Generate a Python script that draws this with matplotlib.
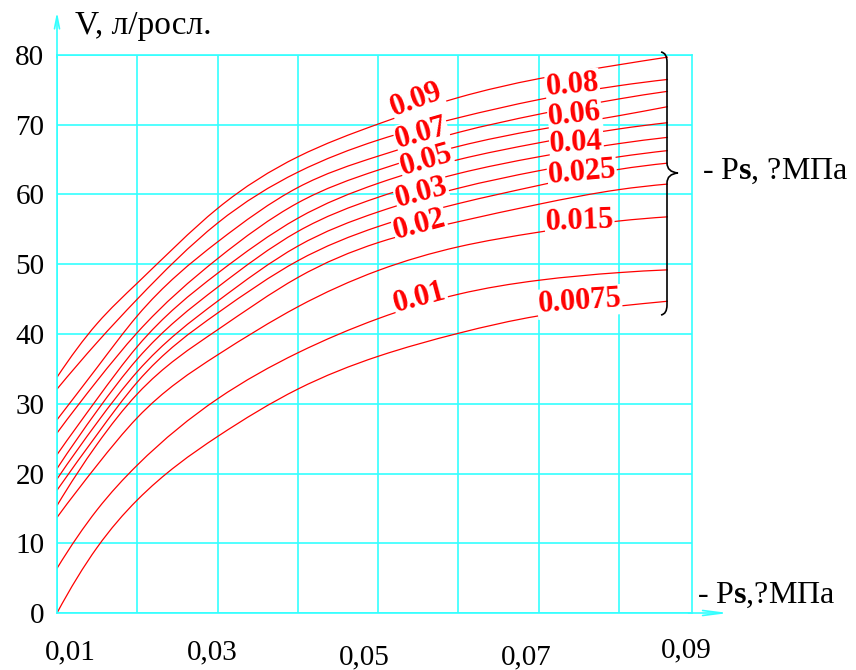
import matplotlib
matplotlib.use('Agg')
import numpy as np
import matplotlib.pyplot as plt
from matplotlib.path import Path
from matplotlib.patches import PathPatch

plt.rcParams['font.family'] = ['Liberation Serif', 'DejaVu Serif']
plt.rcParams['mathtext.fontset'] = 'custom'
plt.rcParams['mathtext.rm'] = 'Liberation Serif'
plt.rcParams['mathtext.bf'] = 'Liberation Serif:bold'

# ---- data ----
ps_x = [0.01, 0.015, 0.02, 0.03, 0.04, 0.05, 0.06, 0.07, 0.08, 0.0861]

v_0090 = [33.8, 41.5, 47.3, 58.0, 65.4, 70.1, 73.9, 76.6, 78.6, 79.7]
v_0080 = [32.1, 38.8, 45.0, 55.9, 63.2, 67.8, 71.0, 73.6, 75.6, 76.5]
v_0070 = [27.7, 35.2, 42.6, 53.2, 61.0, 65.5, 68.9, 71.5, 73.7, 74.8]
v_0060 = [25.8, 33.3, 40.2, 50.8, 58.8, 63.5, 66.9, 69.3, 71.3, 72.6]
v_0050 = [22.7, 30.7, 38.2, 48.7, 56.6, 61.6, 65.0, 67.4, 69.4, 70.3]
v_0040 = [20.7, 29.0, 36.4, 46.7, 54.7, 59.6, 63.0, 65.4, 67.3, 68.2]
v_0030 = [19.2, 27.3, 34.6, 44.7, 52.6, 57.5, 60.9, 63.4, 65.4, 66.3]
v_0025 = [17.6, 25.6, 33.1, 43.0, 50.5, 55.4, 58.7, 61.3, 63.6, 64.5]
v_0020 = [15.4, 24.2, 31.4, 40.6, 48.1, 53.1, 56.1, 58.6, 60.7, 61.5]
v_0015 = [13.7, 21.2, 28.0, 37.0, 43.9, 49.1, 52.5, 54.6, 56.2, 56.8]
v_0010 = [6.4, 14.8, 21.2, 30.7, 37.3, 42.2, 45.7, 47.7, 48.8, 49.2]
v_0075 = [0.0, 9.4, 16.2, 25.3, 32.1, 36.8, 40.1, 42.6, 44.0, 44.7]

curve_values = [v_0090, v_0080, v_0070, v_0060, v_0050, v_0040,
                v_0030, v_0025, v_0020, v_0015, v_0010, v_0075]
curve_labels = ['0.09', '0.08', '0.07', '0.06', '0.05', '0.04',
                '0.03', '0.025', '0.02', '0.015', '0.01', '0.0075']

y_ticks = [0, 10, 20, 30, 40, 50, 60, 70, 80]
x_grid = [0.01, 0.02, 0.03, 0.04, 0.05, 0.06, 0.07, 0.08]
x_tick_labels = ['0,01', '0,03', '0,05', '0,07', '0,09']

# ---- layout / style (not data) ----
label_pos = {  # x, y, rotation
    '0.09': (0.0548, 73.6, 20), '0.07': (0.0554, 68.7, 16),
    '0.05': (0.0560, 64.9, 16), '0.03': (0.0554, 60.2, 15),
    '0.02': (0.0552, 55.6, 15), '0.01': (0.0552, 45.2, 15),
    '0.08': (0.0742, 75.7, 5), '0.06': (0.0745, 71.4, 6),
    '0.04': (0.0747, 67.4, 3), '0.025': (0.0754, 63.1, 5),
    '0.015': (0.0751, 56.2, 2), '0.0075': (0.0751, 44.6, 4),
}
x_label_pos = [(0.0116, -5.7), (0.0294, -5.7), (0.0483, -6.3),
               (0.0685, -6.3), (0.0884, -5.3)]

GRID = '#33ffff'
XMIN, XMAX = 0.01, 0.0891

fig = plt.figure(figsize=(8.56, 6.70), dpi=100)
ax = fig.add_axes([57 / 856, 57 / 670, 635 / 856, 558 / 670])
ax.set_xlim(XMIN, XMAX)
ax.set_ylim(0, 80)

for gx in x_grid:
    ax.axvline(gx, color=GRID, lw=1.2, zorder=1)
for gy in y_ticks:
    ax.axhline(gy, color=GRID, lw=1.2, zorder=1)
for s in ax.spines.values():
    s.set_color(GRID)
    s.set_linewidth(1.2)

ax.set_xticks([])
ax.set_yticks(y_ticks)
ax.set_yticklabels([str(t) for t in y_ticks], fontsize=21)
ax.tick_params(axis='y', length=0, pad=9)


def smooth_path(xs, ys):
    """Clamped cubic spline through the read points, drawn as a Bezier path."""
    xs = np.asarray(xs, float)
    ys = np.asarray(ys, float)
    n = len(xs)
    h = np.diff(xs)
    d = np.diff(ys) / h
    A = np.zeros((n, n))
    b = np.zeros(n)
    A[0, 0] = 1.0
    b[0] = d[0] + (d[0] - d[1]) * h[0] / (h[0] + h[1])
    A[-1, -1] = 1.0
    b[-1] = d[-1] + (d[-1] - d[-2]) * h[-1] / (h[-1] + h[-2])
    for i in range(1, n - 1):
        A[i, i - 1] = h[i]
        A[i, i] = 2 * (h[i - 1] + h[i])
        A[i, i + 1] = h[i - 1]
        b[i] = 3 * (h[i] * d[i - 1] + h[i - 1] * d[i])
    m = np.linalg.solve(A, b)
    verts = [(xs[0], ys[0])]
    codes = [Path.MOVETO]
    for i in range(n - 1):
        t = h[i] / 3
        verts += [(xs[i] + t, ys[i] + m[i] * t),
                  (xs[i + 1] - t, ys[i + 1] - m[i + 1] * t),
                  (xs[i + 1], ys[i + 1])]
        codes += [Path.CURVE4] * 3
    return Path(verts, codes)


for vals in curve_values:
    ax.add_patch(PathPatch(smooth_path(ps_x, vals), facecolor='none',
                           edgecolor='red', lw=0.9, zorder=2))

for lab in curve_labels:
    lx, ly, rot = label_pos[lab]
    ax.text(lx, ly, lab, color='red', fontsize=22, fontweight='bold',
            ha='center', va='center', rotation=rot, rotation_mode='anchor',
            zorder=4,
            bbox=dict(facecolor='white', edgecolor='none', pad=0.5))

for lab, (lx, ly) in zip(x_tick_labels, x_label_pos):
    ax.text(lx, ly, lab, fontsize=21, ha='center', va='center', clip_on=False)

# axis arrows
ax.annotate('', xy=(0, 1.082), xytext=(0, 0.99), xycoords='axes fraction',
            arrowprops=dict(arrowstyle='->,head_length=0.9,head_width=0.18',
                            color=GRID, lw=1.2), annotation_clip=False)
ax.annotate('', xy=(1.062, 0), xytext=(0.99, 0), xycoords='axes fraction',
            arrowprops=dict(arrowstyle='->,head_length=1.4,head_width=0.18',
                            color=GRID, lw=1.2), annotation_clip=False)


def px2data(px, py):
    return (XMIN + (px - 57) / 635 * (XMAX - XMIN), (613 - py) / 558 * 80)


brace_px = [(661, 52), (667, 53), (667, 62), (667, 163), (667, 172), (678, 173),
            (667, 174), (667, 183), (667, 305), (667, 314), (661, 315)]
codes = [Path.MOVETO, Path.CURVE3, Path.CURVE3, Path.LINETO, Path.CURVE3,
         Path.CURVE3, Path.CURVE3, Path.CURVE3, Path.LINETO, Path.CURVE3, Path.CURVE3]
brace = Path([px2data(*p) for p in brace_px], codes)
ax.add_patch(PathPatch(brace, facecolor='none', edgecolor='black', lw=1.2,
                       clip_on=False, zorder=5))

fig.text(75 / 856, 1 - 34 / 670, 'V, л/росл.', fontsize=24, va='baseline')
fig.text(697 / 856, 1 - 603 / 670, r'- P$\mathbf{s}$,?МПа', fontsize=23, va='baseline')
fig.text(702 / 856, 1 - 179 / 670, r'- P$\mathbf{s}$, ?МПа', fontsize=23, va='baseline')

fig.savefig('out.png', dpi=100, facecolor='white')
